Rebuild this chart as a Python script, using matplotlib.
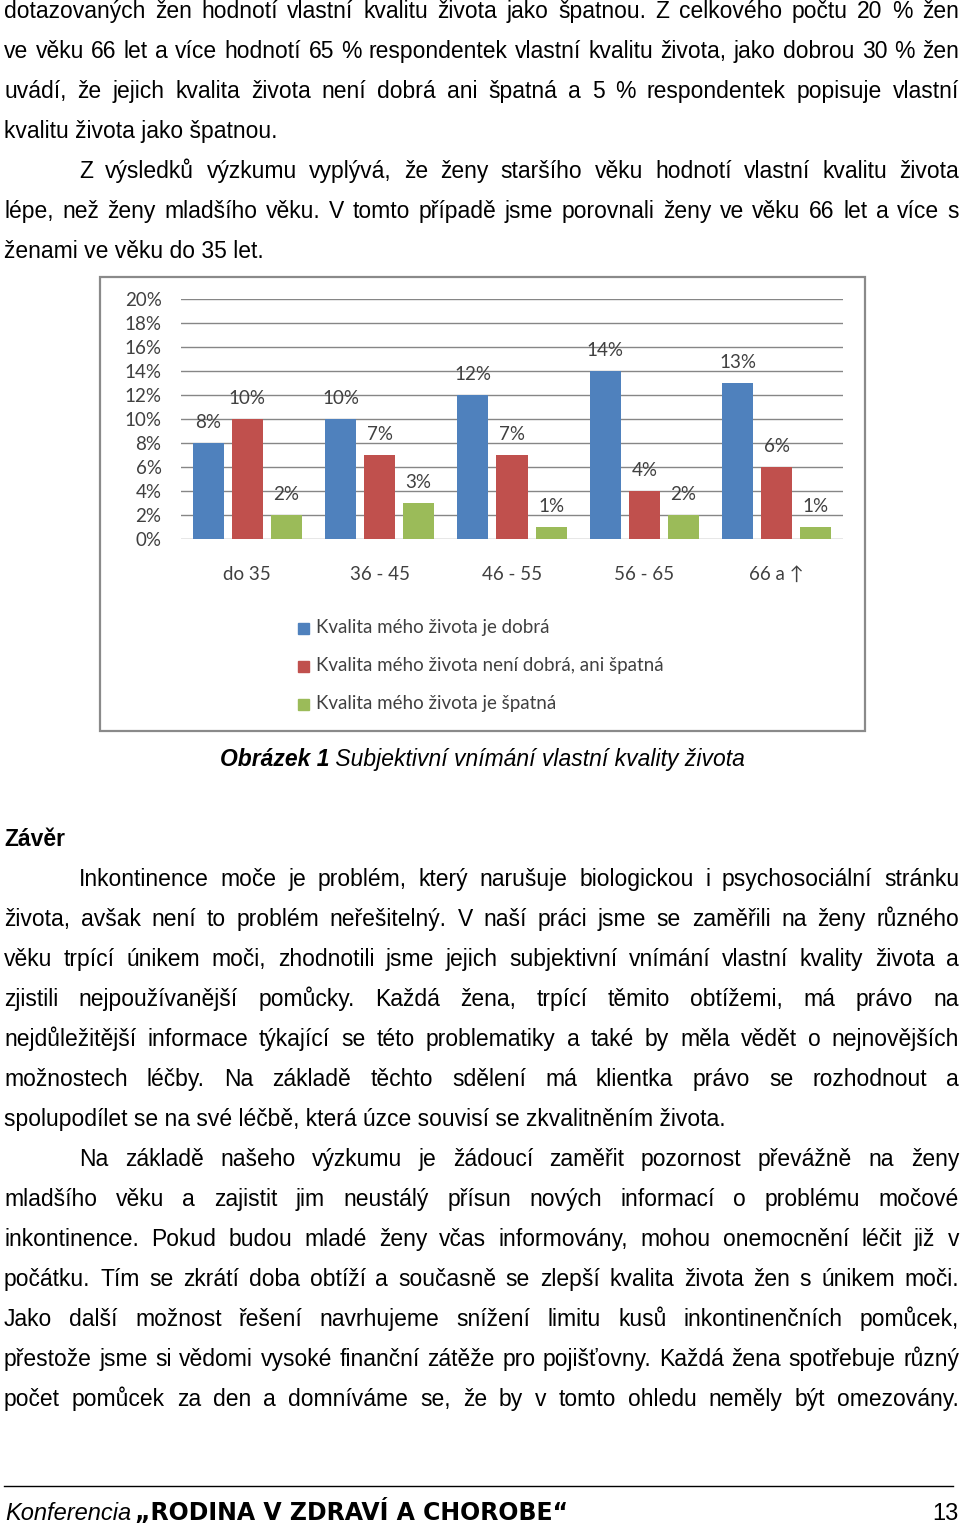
import matplotlib
matplotlib.use("Agg")
import matplotlib.pyplot as plt
from matplotlib.patches import Rectangle
import numpy as np

W, H = 960, 1527

# chart data
categories = ["do 35", "36 - 45", "46 - 55", "56 - 65", "66 a ↑"]
series_names = ["Kvalita mého života je dobrá",
                "Kvalita mého života není dobrá, ani špatná",
                "Kvalita mého života je špatná"]
good = [8, 10, 12, 14, 13]
neutral = [10, 7, 7, 4, 6]
bad = [2, 3, 1, 2, 1]
y_ticks = [0, 2, 4, 6, 8, 10, 12, 14, 16, 18, 20]
colors = ["#4F81BD", "#C0504D", "#9BBB59"]

# page text: (text, indent, justified)
top_lines = [
    ("dotazovaných žen hodnotí vlastní kvalitu života jako špatnou. Z celkového počtu 20 % žen", False, True),
    ("ve věku 66 let a více hodnotí 65 % respondentek vlastní kvalitu života, jako dobrou 30 % žen", False, True),
    ("uvádí, že jejich kvalita života není dobrá ani špatná a 5 % respondentek popisuje vlastní", False, True),
    ("kvalitu života jako špatnou.", False, False),
    ("Z výsledků výzkumu vyplývá, že ženy staršího věku hodnotí vlastní kvalitu života", True, True),
    ("lépe, než ženy mladšího věku. V tomto případě jsme porovnali ženy ve věku 66 let a více s", False, True),
    ("ženami ve věku do 35 let.", False, False),
]
bottom_lines = [
    ("Inkontinence moče je problém, který narušuje biologickou i psychosociální stránku", True, True),
    ("života, avšak není to problém neřešitelný. V naší práci jsme se zaměřili na ženy různého", False, True),
    ("věku trpící únikem moči, zhodnotili jsme jejich subjektivní vnímání vlastní kvality života a", False, True),
    ("zjistili nejpoužívanější pomůcky. Každá žena, trpící těmito obtížemi, má právo na", False, True),
    ("nejdůležitější informace týkající se této problematiky a také by měla vědět o nejnovějších", False, True),
    ("možnostech léčby. Na základě těchto sdělení má klientka právo se rozhodnout a", False, True),
    ("spolupodílet se na své léčbě, která úzce souvisí se zkvalitněním života.", False, False),
    ("Na základě našeho výzkumu je žádoucí zaměřit pozornost převážně na ženy", True, True),
    ("mladšího věku a zajistit jim neustálý přísun nových informací o problému močové", False, True),
    ("inkontinence. Pokud budou mladé ženy včas informovány, mohou onemocnění léčit již v", False, True),
    ("počátku. Tím se zkrátí doba obtíží a současně se zlepší kvalita života žen s únikem moči.", False, True),
    ("Jako další možnost řešení navrhujeme snížení limitu kusů inkontinenčních pomůcek,", False, True),
    ("přestože jsme si vědomi vysoké finanční zátěže pro pojišťovny. Každá žena spotřebuje různý", False, True),
    ("počet pomůcek za den a domníváme se, že by v tomto ohledu neměly být omezovány.", False, True),
]

BODY = dict(family=["Liberation Sans", "DejaVu Sans"], fontsize=16.5, color="black")
CHART = ["Lato", "DejaVu Sans"]
CFS = 13.5

fig = plt.figure(figsize=(W / 100, H / 100), dpi=100)
renderer = fig.canvas.get_renderer()

page = fig.add_axes([0, 0, 1, 1])
page.set_xlim(0, W)
page.set_ylim(H, 0)
page.axis("off")


def put_line(text, y, indent=False, justify=True, x1=959):
    x0 = 79 if indent else 4
    words = text.split(" ")
    if not justify:
        page.text(x0, y, text, va="baseline", ha="left", **BODY)
        return
    arts = [page.text(0, y, w, va="baseline", ha="left", **BODY) for w in words]
    widths = [a.get_window_extent(renderer).width for a in arts]
    gap = (x1 - x0 - sum(widths)) / (len(words) - 1)
    x = x0
    for a, w in zip(arts, widths):
        a.set_x(x)
        x += w + gap


for i, (t, ind, just) in enumerate(top_lines):
    put_line(t, 18 + 40 * i, ind, just)
for i, (t, ind, just) in enumerate(bottom_lines):
    put_line(t, 886 + 40 * i, ind, just)

# chart frame
page.add_patch(Rectangle((100, 277), 765, 454, fill=False, edgecolor="#8a8a8a", lw=1.6))

# chart axes
ax = fig.add_axes([181 / W, (H - 539) / H, (843 - 181) / W, 240 / H])
ax.set_facecolor("none")
x = np.arange(len(categories))
bw, off = 0.235, 0.295
for k, vals in enumerate([good, neutral, bad]):
    xs = x + (k - 1) * off
    ax.bar(xs, vals, width=bw, color=colors[k], zorder=3, label=series_names[k])
    for xi, v in zip(xs, vals):
        ax.annotate(f"{v}%", (xi, v), xytext=(0, 15), textcoords="offset points",
                    ha="center", va="center", fontsize=CFS, family=CHART, color="#404040")
ax.set_xlim(-0.5, len(categories) - 0.5)
ax.set_ylim(0, 20)
ax.set_yticks(y_ticks)
ax.set_yticklabels([f"{t}%" for t in y_ticks], family=CHART, fontsize=CFS, color="#404040")
ax.set_xticks(x)
ax.set_xticklabels(categories, family=CHART, fontsize=CFS, color="#404040")
ax.tick_params(axis="y", length=0, pad=14)
ax.tick_params(axis="x", length=0, pad=19.5)
ax.grid(axis="y", color="#868686", lw=1.0, zorder=0)
for s in ax.spines.values():
    s.set_visible(False)

# legend
for k, name in enumerate(series_names):
    yc = 628 + 38 * k
    page.add_patch(Rectangle((298, yc - 5.5), 11, 11, color=colors[k]))
    page.text(316, yc, name, va="center", ha="left", family=CHART, fontsize=CFS, color="#404040")

# caption
cap1 = page.text(0, 766, "Obrázek 1", va="baseline", ha="left",
                 family=["Liberation Sans", "DejaVu Sans"], fontsize=16.5, style="italic", weight="bold")
cap2 = page.text(0, 766, " Subjektivní vnímání vlastní kvality života", va="baseline", ha="left",
                 family=["Liberation Sans", "DejaVu Sans"], fontsize=16.5, style="italic")
w1 = cap1.get_window_extent(renderer).width
w2 = cap2.get_window_extent(renderer).width
cx = 482.5 - (w1 + w2) / 2
cap1.set_x(cx)
cap2.set_x(cx + w1)

page.text(4, 846, "Závěr", va="baseline", ha="left",
          family=["Liberation Sans", "DejaVu Sans"], fontsize=16.5, weight="bold")

# footer
page.plot([4, 953], [1486, 1486], color="black", lw=1.0)
page.text(5, 1520, "Konferencia", va="baseline", ha="left",
          family=["Liberation Sans Narrow", "Liberation Sans"], fontsize=17, style="italic")
page.text(135, 1520, "„RODINA V ZDRAVÍ A CHOROBE“", va="baseline", ha="left",
          family=["DejaVu Sans"], fontsize=17, weight="bold")
page.text(959, 1520, "13", va="baseline", ha="right",
          family=["Liberation Sans Narrow", "Liberation Sans"], fontsize=17)

fig.savefig("out.png", dpi=100)
